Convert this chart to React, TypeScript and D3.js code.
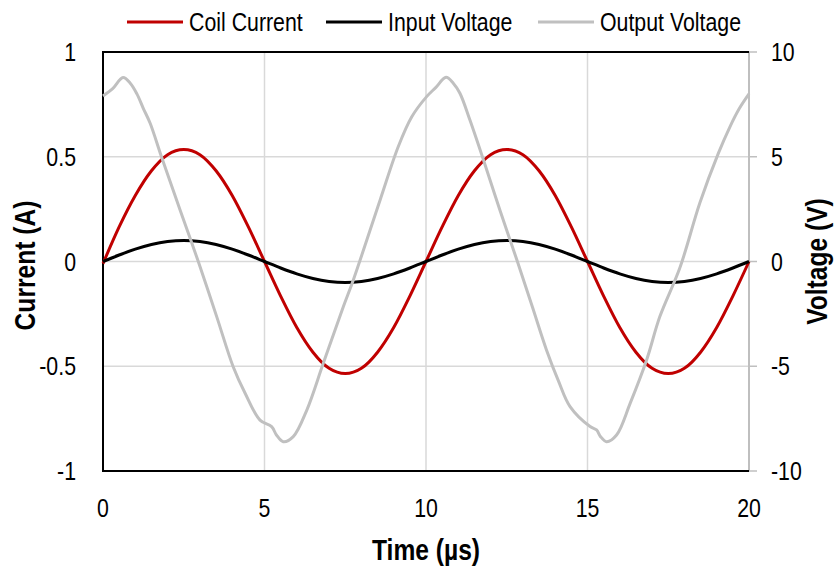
import * as d3 from "d3";
import { useEffect, useRef } from "react";

const W = 837;
const H = 567;
const MARGIN = { top: 52, right: 88, bottom: 96, left: 103 };

// no Arial Narrow available, so squeeze Liberation Sans horizontally
const FONT = "'Liberation Sans', Arial, sans-serif";
const SQUEEZE = 0.82;

// sample times for the two sinusoids (µs)
const TIMES = [
  0, 0.5, 1, 1.5, 2, 2.5, 3, 3.5, 4, 4.5, 5, 5.5, 6, 6.5, 7, 7.5, 8, 8.5, 9, 9.5,
  10, 10.5, 11, 11.5, 12, 12.5, 13, 13.5, 14, 14.5, 15, 15.5, 16, 16.5, 17, 17.5,
  18, 18.5, 19, 19.5, 20,
];

// coil current (A), left axis
const COIL_CURRENT = [
  -0.01, 0.165, 0.315, 0.433, 0.51, 0.535, 0.51, 0.433, 0.315, 0.165, 0, -0.165,
  -0.315, -0.433, -0.51, -0.535, -0.51, -0.433, -0.315, -0.165, 0, 0.165, 0.315,
  0.433, 0.51, 0.535, 0.51, 0.433, 0.315, 0.165, 0, -0.165, -0.315, -0.433, -0.51,
  -0.535, -0.51, -0.433, -0.315, -0.165, 0,
];

// input voltage (V), right axis
const INPUT_VOLTAGE = [
  0, 0.31, 0.59, 0.81, 0.95, 1.0, 0.95, 0.81, 0.59, 0.31, 0, -0.31, -0.59, -0.81,
  -0.95, -1.0, -0.95, -0.81, -0.59, -0.31, 0, 0.31, 0.59, 0.81, 0.95, 1.0, 0.95,
  0.81, 0.59, 0.31, 0, -0.31, -0.59, -0.81, -0.95, -1.0, -0.95, -0.81, -0.59, -0.31, 0,
];

// output voltage (V), right axis, read at uneven times
const OUT_TIMES = [
  0, 0.3, 0.62, 0.85, 1.05, 1.25, 1.46, 1.81, 2.4, 2.95, 3.52, 4.03, 4.4, 4.86,
  5.22, 5.37, 5.58, 5.89, 6.31, 6.82, 7.44, 7.75, 8.58, 9.14, 9.56, 10.02, 10.3,
  10.62, 10.85, 11.05, 11.36, 11.8, 12.3, 12.83, 13.3, 13.73, 14.1, 14.46, 15.08,
  15.28, 15.4, 15.59, 15.9, 16.32, 16.83, 17.24, 17.86, 18.48, 19.05, 19.41, 19.7, 20,
];
const OUTPUT_VOLTAGE = [
  7.9, 8.25, 8.78, 8.5, 8.0, 7.3, 6.6, 5.0, 2.4, 0, -2.63, -5.02, -6.29, -7.57,
  -7.88, -8.28, -8.6, -8.36, -7.09, -4.86, -2.16, -0.88, 2.94, 5.48, 6.91, 7.87, 8.3,
  8.79, 8.5, 8.03, 6.75, 4.75, 2.4, 0, -2.2, -4.22, -5.7, -6.93, -7.88,
  -8.04, -8.35, -8.6, -8.28, -6.77, -4.7, -2.63, -0.3, 2.8, 5.16, 6.43, 7.3, 8.0,
];

const X_TICKS = [0, 5, 10, 15, 20];
const Y_TICKS = [1, 0.5, 0, -0.5, -1];
const Y2_TICKS = [10, 5, 0, -5, -10];

const SERIES = [
  { label: "Coil Current", colour: "#c00000" },
  { label: "Input Voltage", colour: "#000000" },
  { label: "Output Voltage", colour: "#c0c0c0" },
];

export default function App() {
  const ref = useRef<SVGSVGElement | null>(null);

  useEffect(() => {
    if (!ref.current) return;
    const svg = d3.select(ref.current);
    svg.selectAll("*").remove();

    const iw = W - MARGIN.left - MARGIN.right;
    const ih = H - MARGIN.top - MARGIN.bottom;
    const x = d3.scaleLinear().domain([0, 20]).range([0, iw]);
    const y = d3.scaleLinear().domain([-1, 1]).range([ih, 0]);
    const y2 = d3.scaleLinear().domain([-10, 10]).range([ih, 0]);

    const g = svg.append("g").attr("transform", `translate(${MARGIN.left},${MARGIN.top})`);

    // grid
    g.selectAll(".hg")
      .data(Y_TICKS.filter((d) => d !== 1 && d !== -1))
      .join("line")
      .attr("x1", 0)
      .attr("x2", iw)
      .attr("y1", (d) => y(d))
      .attr("y2", (d) => y(d))
      .attr("stroke", "#d9d9d9")
      .attr("stroke-width", 1.5);
    g.selectAll(".vg")
      .data(X_TICKS.filter((d) => d !== 0 && d !== 20))
      .join("line")
      .attr("x1", (d) => x(d))
      .attr("x2", (d) => x(d))
      .attr("y1", 0)
      .attr("y2", ih)
      .attr("stroke", "#d9d9d9")
      .attr("stroke-width", 1.5);

    // right axis (gray) with outward ticks
    g.append("line")
      .attr("x1", iw)
      .attr("x2", iw)
      .attr("y1", 0)
      .attr("y2", ih)
      .attr("stroke", "#bfbfbf")
      .attr("stroke-width", 2);
    g.selectAll(".rt")
      .data(Y2_TICKS)
      .join("line")
      .attr("x1", iw)
      .attr("x2", iw + 8)
      .attr("y1", (d) => y2(d))
      .attr("y2", (d) => y2(d))
      .attr("stroke", "#bfbfbf")
      .attr("stroke-width", 1.5);

    // black frame: left, top, bottom
    g.append("path")
      .attr("d", `M${iw},0H0V${ih}H${iw}`)
      .attr("fill", "none")
      .attr("stroke", "#000")
      .attr("stroke-width", 2);

    // series
    const coil = TIMES.map((t, i) => [t, COIL_CURRENT[i]] as [number, number]);
    const vin = TIMES.map((t, i) => [t, INPUT_VOLTAGE[i]] as [number, number]);
    const vout = OUT_TIMES.map((t, i) => [t, OUTPUT_VOLTAGE[i]] as [number, number]);

    const smooth = d3.line<[number, number]>().curve(d3.curveMonotoneX).x((d) => x(d[0]));
    const rough = d3
      .line<[number, number]>()
      .curve(d3.curveCatmullRom.alpha(0.5))
      .x((d) => x(d[0]))
      .y((d) => y2(d[1]));

    g.append("path")
      .attr("d", smooth.y((d) => y(d[1]))(coil))
      .attr("fill", "none")
      .attr("stroke", SERIES[0].colour)
      .attr("stroke-width", 3);
    g.append("path")
      .attr("d", smooth.y((d) => y2(d[1]))(vin))
      .attr("fill", "none")
      .attr("stroke", SERIES[1].colour)
      .attr("stroke-width", 3);
    g.append("path")
      .attr("d", rough(vout))
      .attr("fill", "none")
      .attr("stroke", SERIES[2].colour)
      .attr("stroke-width", 3)
      .attr("stroke-linejoin", "round");

    // text helpers: squeezed to look like the narrow face
    const label = (
      parent: any,
      px: number,
      py: number,
      s: string | number,
      anchor = "start",
      size = 26,
      weight = "normal",
      rot = 0,
    ) =>
      parent
        .append("text")
        .attr(
          "transform",
          `translate(${px},${py})${rot ? ` rotate(${rot})` : ""} scale(${SQUEEZE},1)`,
        )
        .attr("font-family", FONT)
        .attr("font-size", size)
        .attr("font-weight", weight)
        .attr("fill", "#000")
        .attr("text-anchor", anchor)
        .text(s);

    X_TICKS.forEach((d) => label(g, x(d), ih + 46, d, "middle"));
    Y_TICKS.forEach((d) => label(g, -27, y(d) + 9, d, "end"));
    Y2_TICKS.forEach((d) => label(g, iw + 22, y2(d) + 9, d, "start"));

    // axis titles
    label(svg, MARGIN.left + iw / 2, 560, "Time (µs)", "middle", 30, "bold");
    label(svg, 35, MARGIN.top + ih / 2 + 4, "Current (A)", "middle", 30, "bold", -90);
    label(svg, 827, MARGIN.top + ih / 2, "Voltage (V)", "middle", 30, "bold", -90);

    // legend
    const legendX = [127, 326, 538];
    SERIES.forEach((s, i) => {
      svg
        .append("line")
        .attr("x1", legendX[i])
        .attr("x2", legendX[i] + 56)
        .attr("y1", 22)
        .attr("y2", 22)
        .attr("stroke", s.colour)
        .attr("stroke-width", 3);
      label(svg, legendX[i] + 62, 31, s.label);
    });
  }, []);

  return (
    <svg
      ref={ref}
      width={W}
      height={H}
      style={{ position: "absolute", left: 0, top: 0, background: "#fff" }}
    />
  );
}
